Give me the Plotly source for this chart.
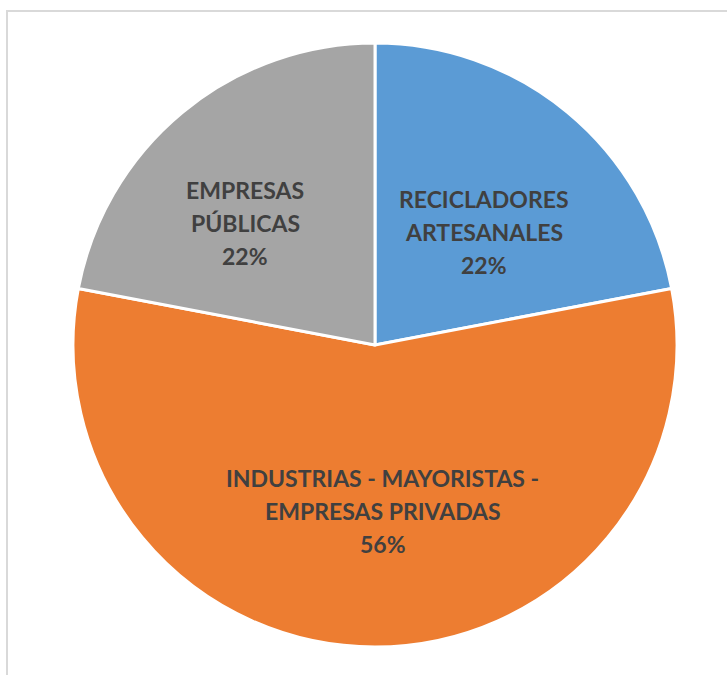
import math
import plotly.graph_objects as go

# Share of recovered material by buyer type
categories = ["Recicladores artesanales",
              "Industrias - Mayoristas - Empresas privadas",
              "Empresas públicas"]
label_lines = [["RECICLADORES", "ARTESANALES"],
               ["INDUSTRIAS - MAYORISTAS -", "EMPRESAS PRIVADAS"],
               ["EMPRESAS", "PÚBLICAS"]]
shares = [22, 56, 22]
colors = ["#5B9BD5", "#ED7D31", "#A5A5A5"]

W, H = 727, 675
CX, CY, R = 375, 345, 302          # pie centre and radius in pixels
LINE_GAP = 33                       # pixel spacing between label lines
# label placement per slice: fraction of radius, angular nudge (deg) off the bisector
label_radius = [0.52, 0.55, 0.59]
label_nudge = [4.6, -2.7, -7.2]

fig = go.Figure(go.Pie(
    labels=categories,
    values=shares,
    textinfo="none",
    sort=False,
    direction="clockwise",
    rotation=0,
    marker=dict(colors=colors, line=dict(color="white", width=3)),
    domain=dict(x=[(CX - R) / W, (CX + R) / W],
                y=[(H - CY - R) / H, (H - CY + R) / H]),
    showlegend=False,
    hoverinfo="label+percent",
))

# Data labels: category lines plus the rounded percentage, centred in each slice
total = sum(shares)
start = 0.0
for lines, v, rf, nudge in zip(label_lines, shares, label_radius, label_nudge):
    frac = v / total
    mid = math.radians((start + frac / 2) * 360 + nudge)   # clockwise from 12 o'clock
    start += frac
    px = CX + rf * R * math.sin(mid)
    py = CY - rf * R * math.cos(mid)
    rows = lines + [f"{round(100 * frac)}%"]
    n = len(rows)
    for i, row in enumerate(rows):
        fig.add_annotation(
            x=px / W, y=(H - py) / H, xref="paper", yref="paper",
            text=row, showarrow=False,
            xanchor="center", yanchor="middle",
            yshift=((n - 1) / 2 - i) * LINE_GAP,
            font=dict(family="Lato", size=23, color="#404040", weight="bold"),
        )

# Chart-area frame
fig.add_shape(type="rect", xref="paper", yref="paper",
              x0=7 / W, y0=-0.02, x1=1.02, y1=(H - 11) / H,
              line=dict(color="#D9D9D9", width=2), fillcolor="rgba(0,0,0,0)")

fig.update_layout(
    width=W, height=H,
    margin=dict(l=0, r=0, t=0, b=0),
    paper_bgcolor="white",
    plot_bgcolor="white",
)

fig.write_html("out.html")
